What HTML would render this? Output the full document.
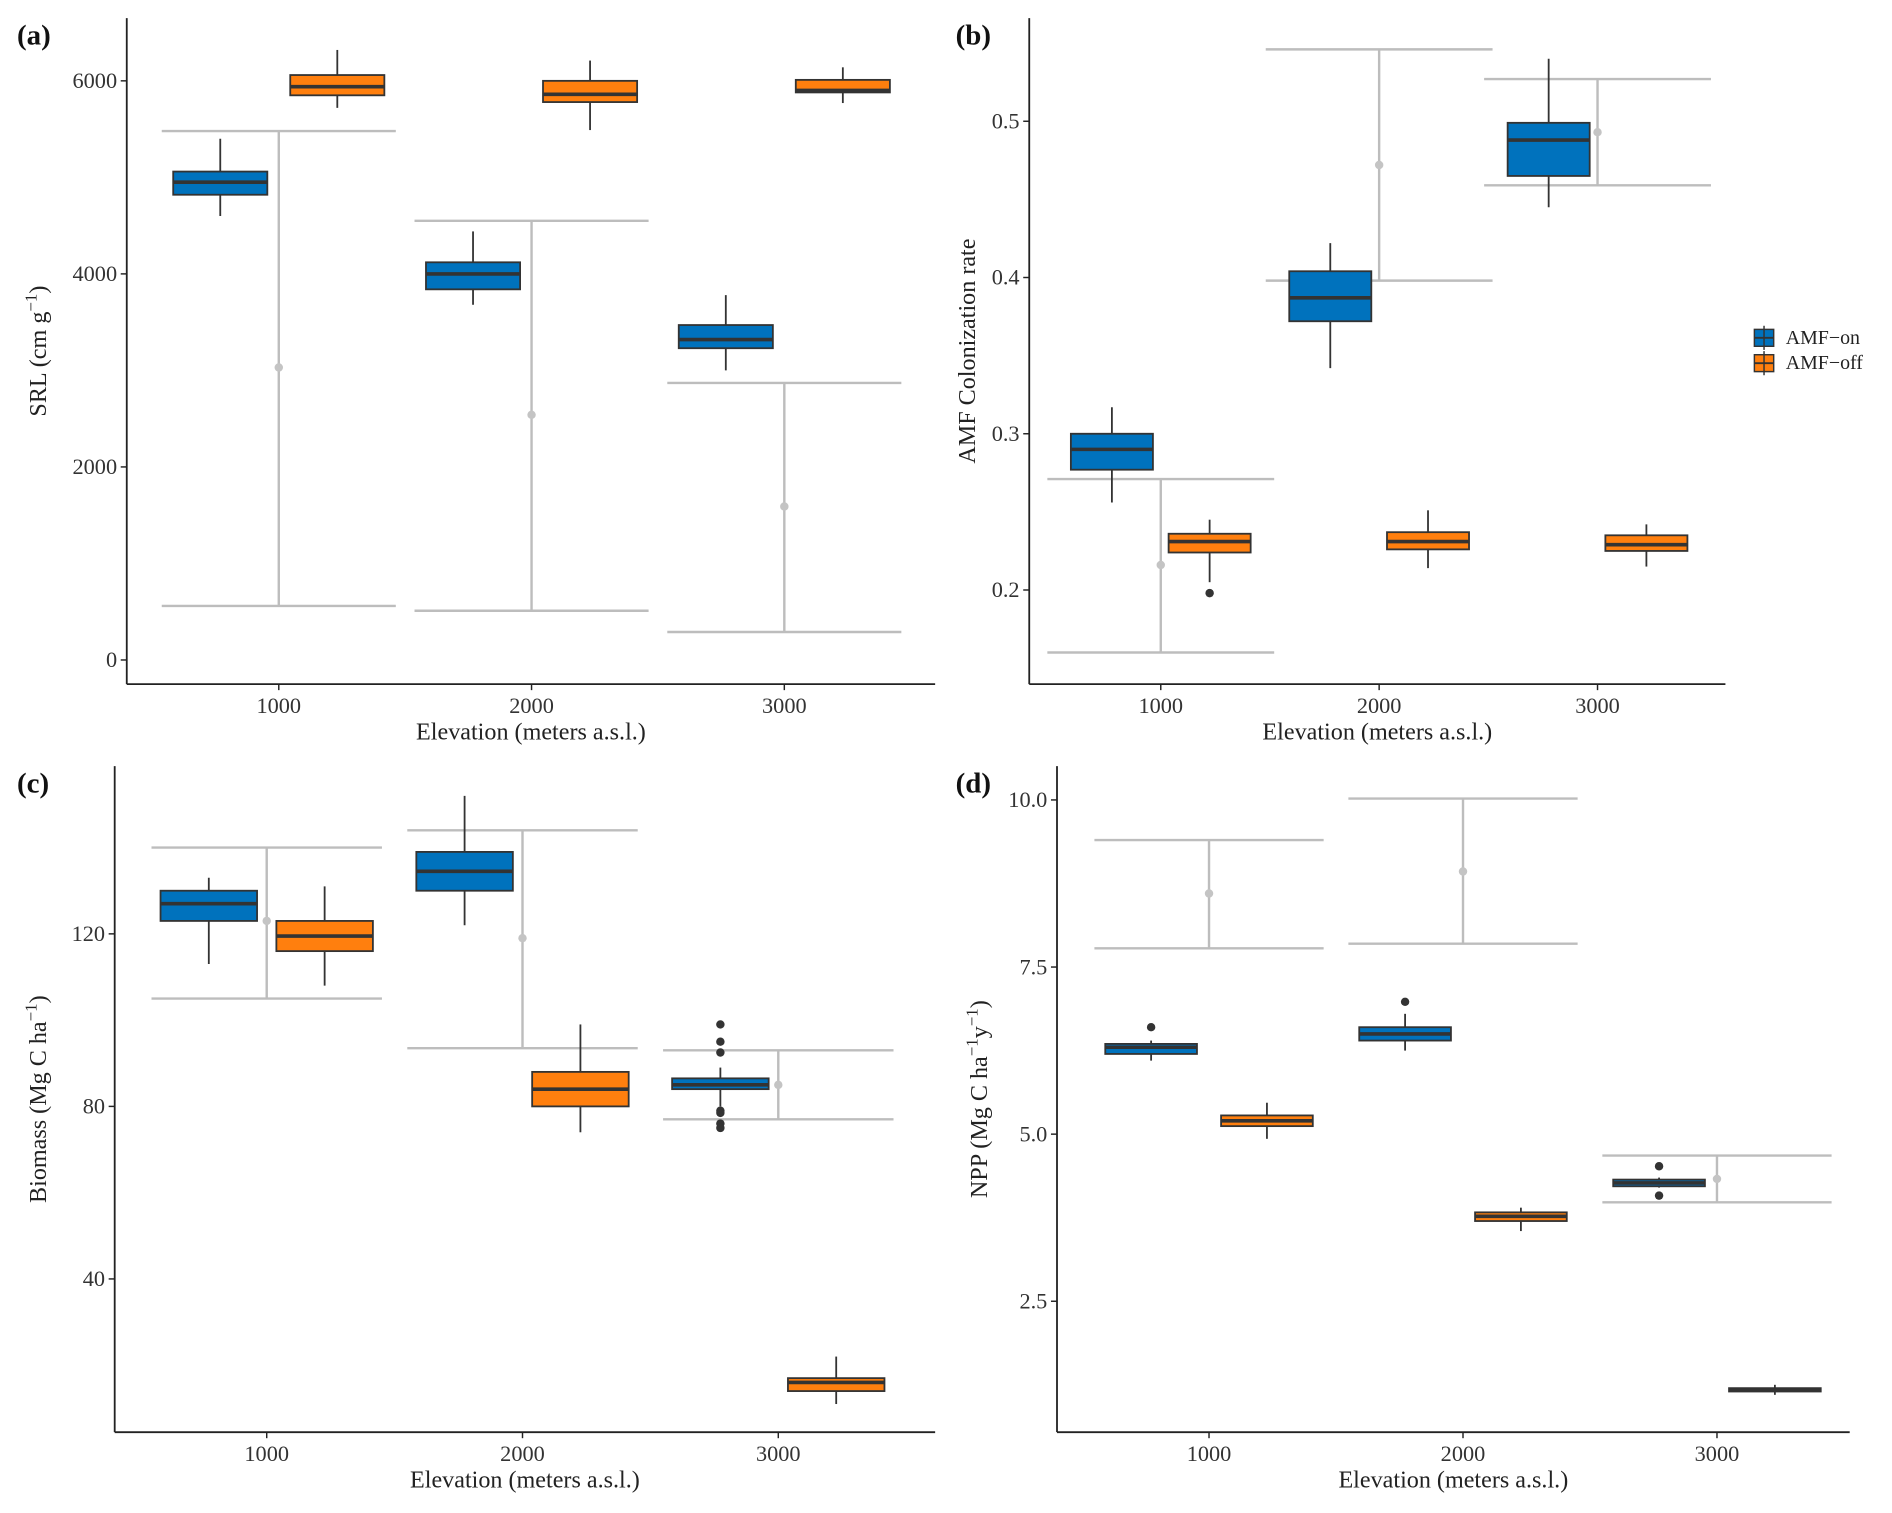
<!DOCTYPE html>
<html><head><meta charset="utf-8"><style>
html,body{margin:0;padding:0;background:#fff}
svg{display:block;font-family:"Liberation Serif",serif}
</style></head><body>
<svg id="fig" width="1892" height="1513" viewBox="0 0 1568 1254" xmlns="http://www.w3.org/2000/svg"></svg>
<script>
// ---- data ----
const categories = [1000, 2000, 3000];
// boxes: [whiskerLow, q1, median, q3, whiskerHigh] per category
const aOn  = [[4600,4820,4950,5060,5400],[3680,3840,4000,4120,4440],[3000,3230,3320,3470,3780]];
const aOff = [[5720,5850,5940,6060,6320],[5490,5780,5860,6000,6210],[5770,5880,5900,6010,6140]];
const aMean = [3030,2540,1590], aLow = [560,510,290], aHigh = [5480,4550,2870];
const aTicks = [0,2000,4000,6000];
const aOnOut = [[],[],[]], aOffOut = [[],[],[]];

const bOn  = [[0.256,0.277,0.290,0.300,0.317],[0.342,0.372,0.387,0.404,0.422],[0.445,0.465,0.488,0.499,0.540]];
const bOff = [[0.205,0.224,0.231,0.236,0.245],[0.214,0.226,0.231,0.237,0.251],[0.215,0.225,0.229,0.235,0.242]];
const bMean = [0.216,0.472,0.493], bLow = [0.160,0.398,0.459], bHigh = [0.271,0.546,0.527];
const bTicks = [0.2,0.3,0.4,0.5];
const bOnOut = [[],[],[]], bOffOut = [[0.198],[],[]];

const cOn  = [[113,123,127,130,133],[122,130,134.5,139,152],[80,84,85,86.5,89]];
const cOff = [[108,116,119.5,123,131],[74,80,84,88,99],[11,14,16,17,22]];
const cMean = [123,119,85], cLow = [105,93.5,77], cHigh = [140,144,93];
const cTicks = [40,80,120];
const cOnOut = [[],[],[99,95,92.5,79,78.5,76,75]], cOffOut = [[],[],[]];

const dOn  = [[6.1,6.2,6.3,6.35,6.4],[6.25,6.4,6.5,6.6,6.8],[4.2,4.22,4.27,4.32,4.35]];
const dOff = [[4.93,5.12,5.2,5.28,5.47],[3.55,3.7,3.77,3.83,3.9],[1.1,1.15,1.17,1.2,1.25]];
const dMean = [8.6,8.93,4.33], dLow = [7.78,7.85,3.98], dHigh = [9.4,10.02,4.68];
const dTicks = [2.5,5.0,7.5,10.0];
const dTickLabels = ["2.5","5.0","7.5","10.0"];
const dOnOut = [[6.6],[6.98],[4.52,4.08]], dOffOut = [[],[],[]];

const NS = "http://www.w3.org/2000/svg";
const svg = document.getElementById('fig');
function mk(tag, attrs, parent, text){
  const e = document.createElementNS(NS, tag);
  for (const k in attrs) e.setAttribute(k, attrs[k]);
  if (text !== undefined) e.textContent = text;
  (parent || svg).appendChild(e);
  return e;
}

function panel(p){
  const g = mk('g', {});
  
  
  const yS = v => p.y0 + (v - p.v0) * p.ypu;
  const xS = c => p.x1000 + (c - 1000) / 1000 * p.xpk;
  categories.forEach((c, i) => {
    const cx = xS(c), hw = p.ew / 2;
    const eb = mk('g', {}, g);
    
    
    mk('line', {x1:cx-hw, x2:cx+hw, y1:yS(p.high[i]), y2:yS(p.high[i]), stroke:'#bdbdbd', 'stroke-width':2}, eb);
    mk('line', {x1:cx-hw, x2:cx+hw, y1:yS(p.low[i]), y2:yS(p.low[i]), stroke:'#bdbdbd', 'stroke-width':2}, eb);
    mk('line', {x1:cx, x2:cx, y1:yS(p.high[i]), y2:yS(p.low[i]), stroke:'#bdbdbd', 'stroke-width':2}, eb);
    mk('circle', {cx:cx, cy:yS(p.mean[i]), r:3.5, fill:'#c4c4c4'}, eb);
  });
  [[p.on, p.onOut, '#0072bd', -p.dodge, 'on'], [p.off, p.offOut, '#ff7f0e', p.dodge, 'off']].forEach(([arr, outs, col, off, nm]) => {
    categories.forEach((c, i) => {
      const b = arr[i], cx = xS(c) + off, hw = p.bw / 2;
      const bg = mk('g', {}, g);
      
      
      mk('line', {x1:cx, x2:cx, y1:yS(b[4]), y2:yS(b[0]), stroke:'#333', 'stroke-width':1.5}, bg);
      const top = yS(b[3]), bot = yS(b[1]);
      mk('rect', {x:cx-hw, y:top, width:p.bw, height:Math.max(bot-top,1), fill:col, stroke:'#333', 'stroke-width':1.5}, bg);
      mk('line', {x1:cx-hw, x2:cx+hw, y1:yS(b[2]), y2:yS(b[2]), stroke:'#333', 'stroke-width':3}, bg);
      outs[i].forEach(v => mk('circle', {cx:cx, cy:yS(v), r:3.5, fill:'#333'}, bg));
    });
  });
  mk('line', {x1:p.ax, x2:p.ax, y1:p.top, y2:p.bottom, stroke:'#222', 'stroke-width':1.5}, g);
  mk('line', {x1:p.ax, x2:p.right, y1:p.bottom, y2:p.bottom, stroke:'#222', 'stroke-width':1.5}, g);
  p.ticks.forEach((t, i) => {
    const y = yS(t);
    mk('line', {x1:p.ax-5, x2:p.ax, y1:y, y2:y, stroke:'#222', 'stroke-width':1.2}, g);
    const tl = mk('text', {x:p.ax-8, y:y+6, 'text-anchor':'end', 'font-size':18.5, fill:'#333'}, g, p.tickLabels ? p.tickLabels[i] : String(t));
    
    
  });
  categories.forEach(c => {
    const x = xS(c);
    mk('line', {x1:x, x2:x, y1:p.bottom, y2:p.bottom+5, stroke:'#222', 'stroke-width':1.2}, g);
    const tl = mk('text', {x:x, y:p.bottom+24, 'text-anchor':'middle', 'font-size':18.5, fill:'#333'}, g, String(c));
    
    
  });
  const xt = mk('text', {x:(p.ax+p.right)/2, y:p.bottom+46, 'text-anchor':'middle', 'font-size':20, fill:'#222'}, g, 'Elevation (meters a.s.l.)');
  
  
  const yt = mk('text', {transform:`translate(${p.ytx},${(p.top+p.bottom)/2}) rotate(-90)`, 'text-anchor':'middle', 'font-size':20, fill:'#222'}, g);
  yt.innerHTML = p.ytitle;
  
  
  const pl = mk('text', {x:p.lx, y:p.ly, 'font-size':24, 'font-weight':'bold', fill:'#111'}, g, '(' + p.id + ')');
  
  
}

panel({id:'a', on:aOn, off:aOff, onOut:aOnOut, offOut:aOffOut, mean:aMean, low:aLow, high:aHigh, ticks:aTicks,
  v0:0, y0:547, ypu:-0.08, x1000:231, xpk:209.5, dodge:48.5, bw:78, ew:194,
  ax:105, top:15, bottom:567, right:775, ytx:38, lx:14, ly:37,
  ytitle:'SRL (cm g<tspan dy="-8" font-size="14">−1</tspan><tspan dy="8">)</tspan>'});
panel({id:'b', on:bOn, off:bOff, onOut:bOnOut, offOut:bOffOut, mean:bMean, low:bLow, high:bHigh, ticks:bTicks,
  v0:0.2, y0:489, ypu:-1295, x1000:962, xpk:181, dodge:40.5, bw:68, ew:188,
  ax:853, top:15, bottom:567, right:1430, ytx:808, lx:792, ly:37,
  ytitle:'AMF Colonization rate'});
panel({id:'c', on:cOn, off:cOff, onOut:cOnOut, offOut:cOffOut, mean:cMean, low:cLow, high:cHigh, ticks:cTicks,
  v0:120, y0:774, ypu:-3.575, x1000:221, xpk:212, dodge:48, bw:80, ew:191,
  ax:95, top:635, bottom:1187, right:775, ytx:38, lx:14, ly:657,
  ytitle:'Biomass (Mg C ha<tspan dy="-8" font-size="14">−1</tspan><tspan dy="8">)</tspan>'});
panel({id:'d', on:dOn, off:dOff, onOut:dOnOut, offOut:dOffOut, mean:dMean, low:dLow, high:dHigh, ticks:dTicks, tickLabels:dTickLabels,
  v0:10, y0:663, ypu:-55.4, x1000:1002, xpk:210.5, dodge:48, bw:76, ew:190,
  ax:876, top:635, bottom:1187, right:1533, ytx:818, lx:792, ly:657,
  ytitle:'NPP (Mg C ha<tspan dy="-8" font-size="14">−1</tspan><tspan dy="8">y</tspan><tspan dy="-8" font-size="14">−1</tspan><tspan dy="8">)</tspan>'});

const lg = mk('g', {});


[['AMF−on','#0072bd',280],['AMF−off','#ff7f0e',301]].forEach(([t,c,y]) => {
  const e = mk('g', {}, lg);
  
  
  mk('rect', {x:1454, y:y-7, width:16, height:14, fill:c, stroke:'#333', 'stroke-width':1.2}, e);
  mk('line', {x1:1462, x2:1462, y1:y-10, y2:y+10, stroke:'#333', 'stroke-width':1.2}, e);
  mk('line', {x1:1454, x2:1470, y1:y, y2:y, stroke:'#333', 'stroke-width':1.5}, e);
  mk('text', {x:1480, y:y+5, 'font-size':16.5, fill:'#222'}, e, t);
});
</script>
</body></html>
